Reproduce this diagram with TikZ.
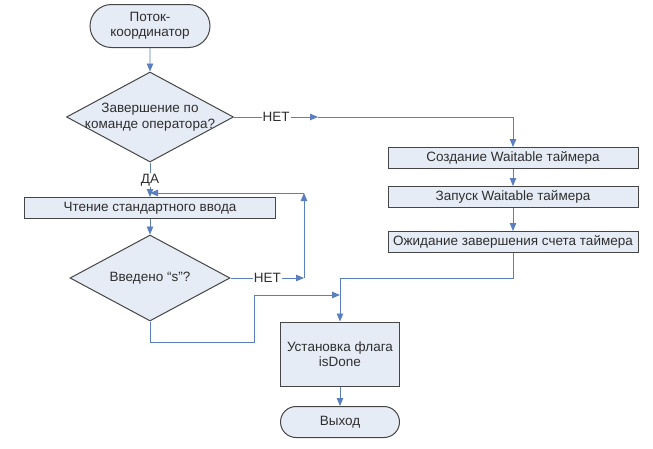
\documentclass[tikz,border=0pt]{standalone}
\usepackage{fontspec}
\setmainfont{Liberation Sans}
\usetikzlibrary{shapes.geometric,shapes.misc,arrows.meta}
\definecolor{shapefill}{HTML}{E6ECF6}
\definecolor{shapeline}{HTML}{454545}
\definecolor{flowline}{HTML}{5A7EBE}
\definecolor{textgray}{HTML}{2E2E2E}
\newcommand\chartfont{\fontsize{13.5}{15.5}\selectfont}

\begin{document}
\begin{tikzpicture}[x=1pt, y=-1pt, font=\chartfont, text=textgray,
	term/.style={rounded rectangle, draw=shapeline, fill=shapefill, line width=1pt, align=center, inner sep=0pt},
	proc/.style={rectangle, draw=shapeline, fill=shapefill, line width=1pt, minimum width=250pt, minimum height=21pt, inner sep=0pt},
	decide/.style={diamond, draw=shapeline, fill=shapefill, line width=1pt, inner sep=0pt, aspect=1.9},
	flow/.style={draw=flowline, line width=0.9pt, -{Triangle[length=8pt,width=6.5pt]}},
	line/.style={draw=flowline, line width=0.9pt},
	answer/.style={fill=white, inner sep=1pt}]
			%%%%% START %%%%%
			
			\useasboundingbox (0,0) rectangle (653,448);
			
			% left column
			\node[term, minimum width=120pt, minimum height=43pt] (start) at (150,26) {Поток-\\координатор};
			\node[decide, minimum width=167pt, minimum height=90pt, label={[align=center]center:Завершение по\\команде оператора?}] (ask) at (150,117) {};
			\node[proc, minimum width=251pt] (read) at (150,208) {Чтение стандартного ввода};
			\node[decide, minimum width=160pt, minimum height=86pt, label={center:Введено ``s''?}] (gotS) at (150,278) {};
			
			% right column
			\node[proc] (create) at (513,158) {Создание Waitable таймера};
			\node[proc] (run) at (513,197) {Запуск Waitable таймера};
			\node[proc] (wait) at (513,242) {Ожидание завершения счета таймера};
			
			\node[proc, minimum width=119pt, minimum height=64pt, align=center] (flag) at (340,354) {Установка флага\\isDone};
			\node[term, minimum width=119pt, minimum height=31pt] (exit) at (340,422) {Выход};
			
			\coordinate (netA) at (318,117);
			\coordinate (loopSE) at (304,278);
			\coordinate (loopNE) at (304,193);
			\coordinate (merge) at (340,278);
			\coordinate (yesC) at (254,342);
			\coordinate (yesEnd) at (340,295);
			
			\draw[flow] (start) -- (ask);
			\draw[flow] (ask.east) -- node[answer]{НЕТ} (netA);
			\draw[flow] (netA) -| (create);
			\draw[flow] (ask) -- node[answer]{ДА} (read);
			\draw[flow] (read) -- (gotS);
			
			\draw[flow] (gotS.east) -- node[answer]{НЕТ} (loopSE);
			\draw[flow] (loopSE) -- (loopNE);
			\draw[flow] (loopNE) -- (loopNE -| read.north);
			
			\draw[flow] (create) -- (run);
			\draw[flow] (run) -- (wait);
			\draw[line] (wait.south) |- (merge);
			\draw[flow] (merge) -- (flag);
			\draw[flow] (gotS.south) |- (yesC) |- (yesEnd);
			\draw[flow] (flag) -- (exit);
			
			%%%%% END %%%%%
\end{tikzpicture}
\end{document}
